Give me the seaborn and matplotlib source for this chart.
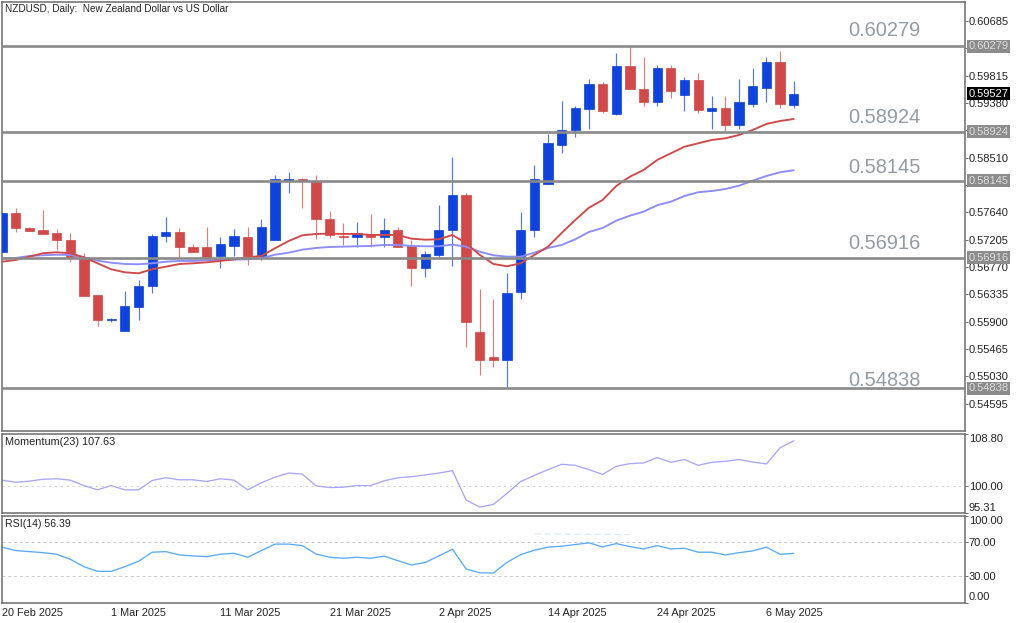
import numpy as np
import pandas as pd
import matplotlib
matplotlib.use("Agg")
import matplotlib.pyplot as plt
import seaborn as sns

open_ = [0.57008,0.57624,0.57391,0.57354,0.57306,0.57199,0.56924,0.56319,0.55926,0.55751,
         0.56127,0.56467,0.57258,0.57322,0.57093,0.57093,0.56945,0.57109,0.57242,0.56945,
         0.57195,0.58143,0.58165,0.58122,0.57538,0.57263,0.57252,0.57295,0.57247,0.57363,
         0.57109,0.56750,0.56961,0.57354,0.57911,0.55735,0.55342,0.55290,0.56367,0.57354,
         0.58091,0.58716,0.58945,0.59284,0.59687,0.59200,0.59974,0.59603,0.59391,0.59932,
         0.59503,0.59751,0.59257,0.59305,0.59025,0.59364,0.59623,0.60037,0.59353]
close = [0.57624,0.57386,0.57343,0.57290,0.57195,0.56934,0.56308,0.55926,0.55942,0.56144,
         0.56472,0.57268,0.57322,0.57083,0.57004,0.56934,0.57131,0.57258,0.56945,0.57401,
         0.58165,0.58165,0.58143,0.57534,0.57274,0.57242,0.57306,0.57252,0.57363,0.57083,
         0.56750,0.56972,0.57363,0.57911,0.55890,0.55290,0.55290,0.56361,0.57363,0.58165,
         0.58738,0.58950,0.59305,0.59687,0.59257,0.59974,0.59598,0.59391,0.59932,0.59571,
         0.59751,0.59269,0.59305,0.59025,0.59401,0.59646,0.60037,0.59364,0.59527]
high = [0.57624,0.57704,0.57406,0.57677,0.57370,0.57306,0.56988,0.56319,0.55963,0.56387,
        0.56557,0.57295,0.57570,0.57386,0.57136,0.57401,0.57242,0.57370,0.57401,0.57529,
        0.58234,0.58287,0.58181,0.58234,0.57661,0.57475,0.57491,0.57613,0.57545,0.57401,
        0.57199,0.57025,0.57756,0.58523,0.57953,0.56414,0.56255,0.56669,0.57640,0.58388,
        0.58887,0.59417,0.59332,0.59757,0.59714,0.60176,0.60279,0.60107,0.59985,0.59985,
        0.59799,0.59853,0.59491,0.59496,0.59757,0.59932,0.60107,0.60203,0.59730]
low = [0.57008,0.57331,0.57343,0.57290,0.57040,0.56854,0.56308,0.55835,0.55899,0.55751,
       0.55926,0.56351,0.57172,0.56924,0.57004,0.56908,0.56758,0.56945,0.56801,0.56881,
       0.57195,0.57952,0.57713,0.57210,0.57226,0.57120,0.57093,0.57093,0.57093,0.57083,
       0.56466,0.56606,0.56934,0.56785,0.55491,0.55047,0.55183,0.54838,0.56252,0.57242,
       0.58091,0.58579,0.58834,0.58971,0.59216,0.59189,0.59598,0.59337,0.59337,0.59460,
       0.59257,0.59226,0.58961,0.58923,0.58971,0.59321,0.59401,0.59305,0.59296]

ma_fast = [0.56854,0.56881,0.56934,0.56988,0.57004,0.56988,0.56924,0.56828,0.56733,0.56685,
           0.56669,0.56733,0.56774,0.56817,0.56828,0.56844,0.56865,0.56892,0.56924,0.56945,
           0.57067,0.57183,0.57274,0.57295,0.57300,0.57295,0.57295,0.57279,0.57279,0.57279,
           0.57220,0.57204,0.57210,0.57279,0.57147,0.56961,0.56817,0.56781,0.56828,0.56961,
           0.57093,0.57311,0.57518,0.57713,0.57836,0.58059,0.58207,0.58313,0.58473,0.58579,
           0.58684,0.58738,0.58791,0.58818,0.58871,0.58950,0.59046,0.59093,0.59125]
ma_slow = [0.56908,0.56913,0.56945,0.56956,0.56965,0.56961,0.56924,0.56870,0.56838,0.56817,
           0.56813,0.56828,0.56854,0.56865,0.56865,0.56876,0.56881,0.56886,0.56892,0.56908,
           0.56965,0.56997,0.57045,0.57072,0.57088,0.57093,0.57099,0.57104,0.57120,0.57120,
           0.57104,0.57099,0.57099,0.57125,0.57093,0.57013,0.56956,0.56934,0.56934,0.56997,
           0.57072,0.57120,0.57210,0.57327,0.57390,0.57507,0.57586,0.57650,0.57752,0.57809,
           0.57900,0.57959,0.57979,0.58011,0.58064,0.58143,0.58218,0.58277,0.58309]

momentum = [100.92,100.57,100.74,101.08,101.16,100.92,100.00,99.26,100.00,99.26,
            99.26,100.86,101.33,100.98,100.98,100.69,101.16,100.92,99.26,100.47,
            101.43,102.13,101.95,99.95,99.66,99.71,100.00,100.00,100.81,101.33,
            101.50,101.81,102.13,102.54,97.53,96.32,96.77,98.67,100.69,101.73,
            102.71,103.63,103.45,102.71,101.90,103.28,103.74,103.85,104.78,103.97,
            104.44,103.45,103.97,104.14,104.44,104.02,103.68,106.44,107.63]
rsi = [63.6,59.7,58.5,57.3,55.5,49.7,41.2,35.8,35.8,41.2,
       47.4,57.8,58.5,54.7,53.5,52.7,55.5,56.6,52.0,59.7,
       67.1,67.1,65.4,55.8,52.0,50.9,52.0,50.9,53.2,48.1,
       43.1,46.0,53.5,61.3,38.5,34.2,33.9,46.2,55.0,60.1,
       63.6,64.7,66.6,68.6,63.9,67.7,64.3,61.6,65.4,61.6,
       62.4,57.8,57.8,54.7,57.3,59.3,63.6,55.5,56.39]
rsi_ghost = [78.9,78.9,78.6,78.4,78.4,78.3,78.0,78.0]

levels = [0.60279,0.58924,0.58145,0.56916,0.54838]
level_label_px = [30.5,117.5,167.5,243.5,380.5]
last_price = 0.59527
price_ticks = [0.60685,0.60250,0.59815,0.59380,0.58945,0.58510,0.58075,0.57640,
               0.57205,0.56770,0.56335,0.55900,0.55465,0.55030,0.54595]
price_tick_labels = ["0.60685","","0.59815","0.59380","","0.58510","","0.57640",
                     "0.57205","0.56770","0.56335","0.55900","0.55465","0.55030","0.54595"]
date_positions = [0,8,16,24,32,40,48,56]
date_labels = ["20 Feb 2025","1 Mar 2025","11 Mar 2025","21 Mar 2025",
               "2 Apr 2025","14 Apr 2025","24 Apr 2025","6 May 2025"]

W, H = 1024, 623
BLUE, RED = "#0a3fe0", "#d24545"
FRAME = "#6c6c6c"
TXT = "#222222"

sns.set_theme(style="white")
plt.rcParams["font.family"] = ["Liberation Sans", "DejaVu Sans"]
plt.rcParams["font.size"] = 8

fig = plt.figure(figsize=(W / 100, H / 100), dpi=100, facecolor="white")

def panel(y0, y1, x0=2, x1=965):
    ax = fig.add_axes([x0 / W, 1 - y1 / H, (x1 - x0) / W, (y1 - y0) / H])
    ax.set_xlim(0, (x1 - x0) / 13.65)
    ax.yaxis.tick_right()
    ax.tick_params(axis="y", length=2.2, width=0.7, pad=0.4, labelsize=8,
                   color=FRAME, labelcolor=TXT)
    ax.tick_params(axis="x", length=0)
    ax.set_xticks([])
    ax.grid(False)
    for s in ax.spines.values():
        s.set_color(FRAME)
        s.set_linewidth(1.1)
    return ax

main = panel(2, 431)
mom = panel(434, 513)
rs = panel(515.5, 602.5)

df = pd.DataFrame({"i": np.arange(len(close)), "open": open_, "close": close,
                   "high": high, "low": low, "fast": ma_fast, "slow": ma_slow,
                   "mom": momentum, "rsi": rsi})

# main price panel
up = df[df.close >= df.open]
dn = df[df.close < df.open]
for part, col in ((up, BLUE), (dn, RED)):
    main.vlines(part.i, part.low, part.high, color=col, lw=0.85, alpha=0.7, zorder=2)
    main.bar(part.i, (part.close - part.open).abs(),
             bottom=part[["open", "close"]].min(axis=1), width=0.68,
             color=col, edgecolor=col, linewidth=0.5, alpha=0.98, zorder=3)

sns.lineplot(data=df, x="i", y="slow", ax=main, color="#8c8cff", lw=1.35,
             legend=False, zorder=4)
sns.lineplot(data=df, x="i", y="fast", ax=main, color="#d24848", lw=1.35,
             legend=False, zorder=5)
for lv in levels:
    main.axhline(lv, color="#8a8a8a", lw=1.9, zorder=6)

main.set_ylim(0.54159, 0.60987)
main.set_yticks(price_ticks)
main.set_yticklabels(price_tick_labels)
main.set_xlabel("")
main.set_ylabel("")

for lv, py in zip(levels, level_label_px):
    fig.text(848 / W, 1 - py / H, f"{lv:.5f}", fontsize=14.4, color="#959ba3",
             ha="left", va="center")
    main.annotate(f"{lv:.5f}", xy=(1, lv), xycoords=("axes fraction", "data"),
                  xytext=(3.5, 0), textcoords="offset pixels", ha="left", va="center",
                  fontsize=8, color="#dddddd", annotation_clip=False, zorder=10,
                  bbox=dict(boxstyle="square,pad=0.12", fc="#8c8c8c", ec="none"))
main.annotate(f"{last_price:.5f}", xy=(1, last_price), xycoords=("axes fraction", "data"),
              xytext=(3.5, 0), textcoords="offset pixels", ha="left", va="center",
              fontsize=8, color="white", annotation_clip=False, zorder=10,
              bbox=dict(boxstyle="square,pad=0.12", fc="black", ec="none"))

fig.text(5 / W, 1 - 9.5 / H, "NZDUSD, Daily:  New Zealand Dollar vs US Dollar",
         fontsize=7.2, color=TXT, ha="left", va="center")

# momentum panel
mom.axhline(100, color="#c9c9c9", lw=0.7, ls=(0, (2, 4)), zorder=1)
sns.lineplot(data=df, x="i", y="mom", ax=mom, color="#aaa5ff", lw=0.95, legend=False)
mom.set_ylim(95.31, 108.80)
mom.set_yticks([108.80, 100.00, 95.31])
mom.set_yticklabels(["108.80", "100.00", "95.31"])
mom.get_yticklabels()[0].set_va("top")
mom.get_yticklabels()[2].set_va("bottom")
mom.set_xlabel("")
mom.set_ylabel("")
fig.text(5 / W, 1 - 442 / H, "Momentum(23) 107.63", fontsize=7.85, color=TXT,
         ha="left", va="center")

# RSI panel
for lv in (70, 30):
    rs.axhline(lv, color="#c9c9c9", lw=0.7, ls=(0, (3, 3)), zorder=1)
sns.lineplot(x=np.arange(39, 47), y=rsi_ghost, ax=rs, color="#dbe6f0", lw=0.8,
             linestyle=(0, (6, 3)), legend=False)
sns.lineplot(data=df, x="i", y="rsi", ax=rs, color="#58aaff", lw=0.95, legend=False)
rs.set_ylim(0, 100)
rs.set_yticks([100, 70, 30, 0])
rs.set_yticklabels(["100.00", "70.00", "30.00", "0.00"])
rs.get_yticklabels()[0].set_va("top")
rs.get_yticklabels()[3].set_va("bottom")
rs.set_ylabel("")
rs.set_xticks(date_positions)
rs.set_xticklabels(date_labels, ha="left")
rs.tick_params(axis="x", length=2.8, width=0.7, pad=1.2, labelsize=7.8,
               color=FRAME, labelcolor=TXT)
rs.set_xlabel("")
fig.text(5 / W, 1 - 524 / H, "RSI(14) 56.39", fontsize=7.6, color=TXT,
         ha="left", va="center")

for ax in (main, mom, rs):
    ax.set_xlim(0, (965 - 2) / 13.65)

fig.savefig("out.png", dpi=100, facecolor="white")
